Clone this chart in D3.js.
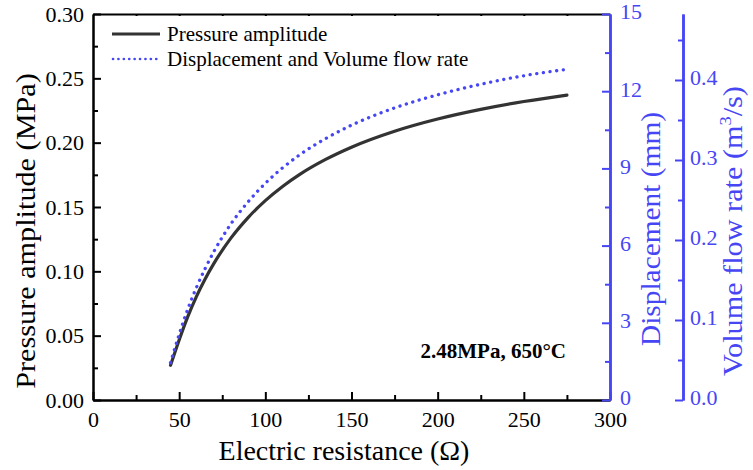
<!DOCTYPE html>
<html>
<head>
<meta charset="utf-8">
<script src="https://cdn.jsdelivr.net/npm/d3@7"></script>
<style>
  html, body { margin: 0; padding: 0; background: #fff; }
  svg { display: block; font-family: "Liberation Serif", "Times New Roman", serif; }
</style>
</head>
<body>
<svg id="chart" width="753" height="470"></svg>
<script>
// ---- data ----
const resistance   = [45, 50, 55, 60, 65, 70, 80, 90, 100, 110, 120, 135, 150, 175, 200, 225, 250, 275];
const pressure     = [0.027, 0.0467, 0.0648, 0.0804, 0.0939, 0.1058, 0.1258, 0.1418, 0.155, 0.166, 0.1754, 0.187, 0.1965, 0.2089, 0.2184, 0.2259, 0.232, 0.237];
const displacement = [1.45, 2.55, 3.53, 4.37, 5.10, 5.75, 6.84, 7.70, 8.42, 9.02, 9.53, 10.16, 10.68, 11.35, 11.86, 12.27, 12.60, 12.85];

const xTicks      = [0, 50, 100, 150, 200, 250, 300];
const pTicks      = [0, 0.05, 0.10, 0.15, 0.20, 0.25, 0.30];
const dTicks      = [0, 3, 6, 9, 12, 15];
const vTicks      = [0, 0.1, 0.2, 0.3, 0.4];
const seriesNames = ["Pressure amplitude", "Displacement and Volume flow rate"];
const annotation  = "2.48MPa, 650°C";

// ---- layout ----
const L = 93, R = 610, T = 14, B = 400, V = 683;
const BLUE = "#4646f4", BLACK = "#000";
const svg = d3.select("#chart");

const x  = d3.scaleLinear().domain([0, 300]).range([L, R]);
const yP = d3.scaleLinear().domain([0, 0.30]).range([B, T]);
const yD = d3.scaleLinear().domain([0, 15]).range([B, T]);
const yV = d3.scaleLinear().domain([0, 0.4825]).range([B, T]);

const tickFont = 22;

function styleAxis(g, color, width) {
  g.select(".domain").attr("stroke", color).attr("stroke-width", width);
  g.selectAll(".tick line").attr("stroke", color).attr("stroke-width", 2);
  g.selectAll(".tick text").attr("fill", color).attr("font-size", tickFont)
    .attr("font-family", "Liberation Serif, Times New Roman, serif");
}

// top frame line with small ticks
svg.append("g").attr("transform", `translate(0,${T})`)
  .call(d3.axisTop(x).tickValues(d3.range(25, 300, 25)).tickSizeInner(-2).tickSizeOuter(0).tickFormat(""))
  .call(g => styleAxis(g, BLACK, 2));

// bottom axis minor
svg.append("g").attr("transform", `translate(0,${B})`)
  .call(d3.axisBottom(x).tickValues(d3.range(25, 300, 50)).tickSizeInner(-5).tickSizeOuter(0).tickFormat(""))
  .call(g => styleAxis(g, BLACK, 2));
// bottom axis major
svg.append("g").attr("transform", `translate(0,${B})`)
  .call(d3.axisBottom(x).tickValues(xTicks).tickSizeInner(-8).tickSizeOuter(0).tickPadding(11).tickFormat(d3.format("d")))
  .call(g => styleAxis(g, BLACK, 2));

// left axis minor
svg.append("g").attr("transform", `translate(${L},0)`)
  .call(d3.axisLeft(yP).tickValues(d3.range(0.025, 0.3, 0.05)).tickSizeInner(-5).tickSizeOuter(0).tickFormat(""))
  .call(g => styleAxis(g, BLACK, 2));
// left axis major
svg.append("g").attr("transform", `translate(${L},0)`)
  .call(d3.axisLeft(yP).tickValues(pTicks).tickSizeInner(-8).tickSizeOuter(0).tickPadding(9).tickFormat(d3.format(".2f")))
  .call(g => styleAxis(g, BLACK, 2));

// displacement axis (right, blue)
svg.append("g").attr("transform", `translate(${R},0)`)
  .call(d3.axisRight(yD).tickValues(d3.range(1.5, 15, 3)).tickSizeInner(-5).tickSizeOuter(0).tickFormat(""))
  .call(g => styleAxis(g, BLUE, 2.5));
svg.append("g").attr("transform", `translate(${R},0)`)
  .call(d3.axisRight(yD).tickValues(dTicks).tickSizeInner(-8).tickSizeOuter(0).tickPadding(10).tickFormat(d3.format("d")))
  .call(g => styleAxis(g, BLUE, 2.5))
  .call(g => g.selectAll(".tick text").attr("dy", "0.22em"));

// volume flow axis (far right, blue)
svg.append("g").attr("transform", `translate(${V},0)`)
  .call(d3.axisRight(yV).tickValues(d3.range(0.05, 0.48, 0.1)).tickSizeInner(-5).tickSizeOuter(0).tickFormat(""))
  .call(g => styleAxis(g, BLUE, 2.5));
svg.append("g").attr("transform", `translate(${V},0)`)
  .call(d3.axisRight(yV).tickValues(vTicks).tickSizeInner(-8).tickSizeOuter(0).tickPadding(7).tickFormat(d3.format(".1f")))
  .call(g => styleAxis(g, BLUE, 2.5))
  .call(g => g.selectAll(".tick text").attr("dy", "0.22em"));

// ---- lines ----
const pts = resistance.map((r, i) => ({ r, p: pressure[i], d: displacement[i] }));
const lineP = d3.line().x(d => x(d.r)).y(d => yP(d.p)).curve(d3.curveMonotoneX);
const lineD = d3.line().x(d => x(d.r)).y(d => yD(d.d)).curve(d3.curveMonotoneX);

svg.append("path").datum(pts).attr("d", lineP)
  .attr("fill", "none").attr("stroke", "#333").attr("stroke-width", 3.2).attr("stroke-linecap", "round");
svg.append("path").datum(pts).attr("d", lineD)
  .attr("fill", "none").attr("stroke", BLUE).attr("stroke-width", 3.3)
  .attr("stroke-linecap", "round").attr("stroke-dasharray", "0.1 6.6");

// ---- legend ----
const leg = svg.append("g");
leg.append("line").attr("x1", 112).attr("x2", 160).attr("y1", 34).attr("y2", 34)
  .attr("stroke", "#333").attr("stroke-width", 3);
leg.append("text").attr("x", 167).attr("y", 41).attr("font-size", 21).attr("fill", "#000").text(seriesNames[0]);
leg.append("line").attr("x1", 113).attr("x2", 160).attr("y1", 59).attr("y2", 59)
  .attr("stroke", BLUE).attr("stroke-width", 2.6).attr("stroke-linecap", "round").attr("stroke-dasharray", "0.1 5.3");
leg.append("text").attr("x", 167).attr("y", 66).attr("font-size", 21).attr("fill", "#000").text(seriesNames[1]);

// ---- annotation ----
svg.append("text").attr("x", 566).attr("y", 358).attr("text-anchor", "end")
  .attr("font-size", 21).attr("font-weight", "bold").attr("fill", "#000").text(annotation);

// ---- axis titles ----
svg.append("text").attr("x", 344).attr("y", 460).attr("text-anchor", "middle")
  .attr("font-size", 28).attr("fill", "#000").text("Electric resistance (Ω)");

svg.append("text").attr("transform", "translate(35,231) rotate(-90) scale(1.08,1)").attr("text-anchor", "middle")
  .attr("font-size", 28).attr("fill", "#000").text("Pressure amplitude (MPa)");

svg.append("text").attr("transform", "translate(660,229) rotate(-90) scale(1.05,1)").attr("text-anchor", "middle")
  .attr("font-size", 28).attr("fill", BLUE).text("Displacement (mm)");

const vt = svg.append("text").attr("transform", "translate(742,231) rotate(-90) scale(1.08,1)").attr("text-anchor", "middle")
  .attr("font-size", 28).attr("fill", BLUE);
vt.append("tspan").text("Volume flow rate (m");
vt.append("tspan").attr("font-size", 17).attr("dy", -11).text("3");
vt.append("tspan").attr("dy", 11).text("/s)");
</script>
</body>
</html>
